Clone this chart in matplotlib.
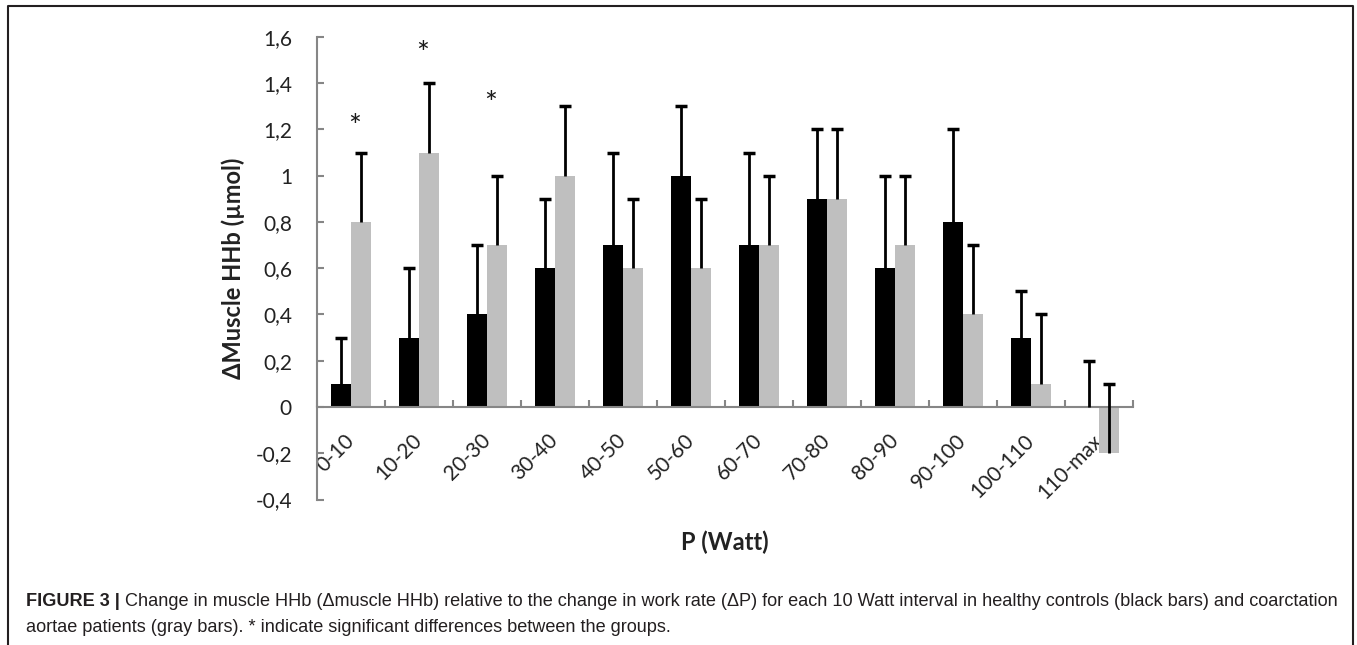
import matplotlib
matplotlib.use('Agg')
import matplotlib.pyplot as plt
import numpy as np

categories = ['0-10', '10-20', '20-30', '30-40', '40-50', '50-60', '60-70',
              '70-80', '80-90', '90-100', '100-110', '110-max']
controls = [0.1, 0.3, 0.4, 0.6, 0.7, 1.0, 0.7, 0.9, 0.6, 0.8, 0.3, 0.0]
controls_err = [0.2, 0.3, 0.3, 0.3, 0.4, 0.3, 0.4, 0.3, 0.4, 0.4, 0.2, 0.2]
patients = [0.8, 1.1, 0.7, 1.0, 0.6, 0.6, 0.7, 0.9, 0.7, 0.4, 0.1, -0.2]
patients_err = [0.3, 0.3, 0.3, 0.3, 0.3, 0.3, 0.3, 0.3, 0.3, 0.3, 0.3, 0.3]
star_idx = [0, 1, 2]
star_y = [1.21, 1.525, 1.31]
yticks = [-0.4, -0.2, 0, 0.2, 0.4, 0.6, 0.8, 1.0, 1.2, 1.4, 1.6]
ytick_labels = ['-0,4', '-0,2', '0', '0,2', '0,4', '0,6', '0,8', '1', '1,2', '1,4', '1,6']

W, H = 1357, 645
fig = plt.figure(figsize=(W / 100, H / 100), dpi=100)

# frame and caption layer
bg = fig.add_axes([0, 0, 1, 1])
bg.set_xlim(0, W)
bg.set_ylim(H, 0)
bg.axis('off')
bg.plot([8, 8, 1353, 1353], [H + 5, 6, 6, H + 5], color='#231f20', lw=1.5)

cap_color = '#231f20'
t1 = bg.text(26, 610, 'FIGURE 3 |', fontsize=13.1, fontweight='bold',
             family='Liberation Sans', color=cap_color, va='bottom')
bg.annotate(' Change in muscle HHb (\u0394muscle HHb) relative to the change in work rate (\u0394P) '
            'for each 10 Watt interval in healthy controls (black bars) and coarctation',
            xy=(1, 0), xycoords=t1, va='bottom', ha='left', fontsize=13.1,
            family='Liberation Sans', color=cap_color)
bg.text(26, 636, 'aortae patients (gray bars). * indicate significant differences between the groups.',
        fontsize=13.1, family='Liberation Sans', color=cap_color, va='bottom')

# chart
ax = fig.add_axes([317 / W, 1 - 499.5 / H, (1133 - 317) / W, (499.5 - 37) / H])
x = np.arange(len(categories))
bw = 0.294
xc = x - bw / 2
xp = x + bw / 2
ax.bar(xc, controls, bw, color='black', zorder=2)
ax.bar(xp, patients, bw, color='#bfbfbf', zorder=2)

# upper error bars only, with a cap at the top
for xs, vals, errs in [(xc, controls, controls_err), (xp, patients, patients_err)]:
    vals = np.array(vals)
    errs = np.array(errs)
    ax.errorbar(xs, vals, yerr=[np.zeros(len(xs)), errs], fmt='none',
                ecolor='black', elinewidth=2, capsize=0, zorder=3)
    ax.plot(xs, vals + errs, ls='none', marker='_', markersize=9,
            markeredgewidth=2.5, color='black', zorder=3)

for i, sy in zip(star_idx, star_y):
    ax.text(x[i] + 0.05, sy, '*', ha='center', va='center', fontsize=22,
            family='Lato', color='#1a1a1a')

ax.set_xlim(-0.5, len(categories) - 0.5)
ax.set_ylim(-0.4, 1.6)
for s in ['top', 'right']:
    ax.spines[s].set_visible(False)
ax.spines['bottom'].set_position(('data', 0))
for s in ['left', 'bottom']:
    ax.spines[s].set_color('#868686')
    ax.spines[s].set_linewidth(1.5)

ax.set_yticks(yticks)
ax.set_yticklabels(ytick_labels, fontsize=15, family='Lato', color='#222222')
ax.tick_params(axis='y', direction='in', length=5, width=1.5, color='#868686', pad=18)

ax.set_xticks(x)
ax.set_xticklabels(categories, rotation=45, ha='right', va='center',
                   rotation_mode='anchor', fontsize=15, family='Lato', color='#222222')
ax.tick_params(axis='x', which='major', length=0, pad=22)
ax.set_xticks(np.arange(-0.5, len(categories)), minor=True)
ax.tick_params(axis='x', which='minor', direction='in', length=5, width=1.5, color='#868686')

fig.text(725 / W, 1 - 542 / H, 'P (Watt)', ha='center', va='center',
         fontsize=17, fontweight='bold', family='Lato', color='#222222')
fig.text(233 / W, 1 - 268 / H, '\u0394Muscle HHb (\u00b5mol)', ha='center', va='center',
         rotation=90, fontsize=17, fontweight='bold', family=['Lato', 'DejaVu Sans'],
         color='#222222')

fig.savefig('out.png', dpi=100)
